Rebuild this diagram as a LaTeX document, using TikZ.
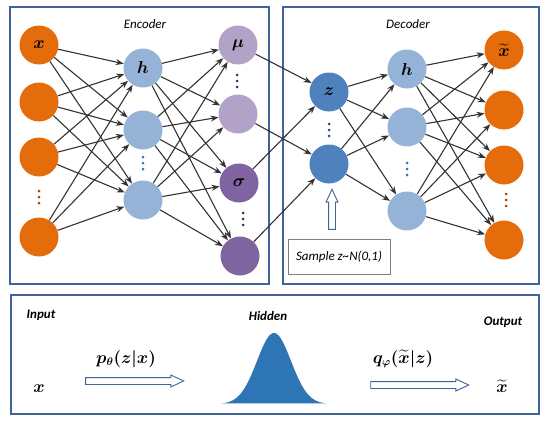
\documentclass[tikz,border=0pt]{standalone}
\usepackage{amsmath,bm}
\usepackage{fontspec}
\setmainfont{Carlito}
\usetikzlibrary{arrows.meta,shapes.arrows}

\definecolor{inorange}{HTML}{E46C0A}
\definecolor{hblue}{HTML}{95B3D7}
\definecolor{lpurple}{HTML}{B3A2C7}
\definecolor{dpurple}{HTML}{8064A2}
\definecolor{zblue}{HTML}{4F81BD}
\definecolor{framecol}{HTML}{3F6497}
\definecolor{edgegray}{HTML}{333333}
\definecolor{bellblue}{HTML}{2E75B6}
\definecolor{dotbrown}{HTML}{984807}
\definecolor{dotpurple}{HTML}{403152}
\definecolor{dotblue}{HTML}{1F4E79}

\tikzset{
  neuron/.style={circle,minimum size=39pt,inner sep=0pt,font=\fontsize{16}{18}\selectfont},
  link/.style={draw=edgegray,line width=1.1pt,-{Stealth[length=8pt,width=6pt]}},
  frame/.style={draw=framecol,line width=1.3pt},
  caption/.style={font=\fontsize{13}{15}\selectfont\itshape},
  mathlabel/.style={font=\fontsize{16}{18}\selectfont},
  hollow/.style={single arrow,draw=framecol,fill=white,line width=0.9pt,
    inner xsep=0pt,inner ysep=3pt,single arrow head extend=2.5pt,single arrow tip angle=50},
  vdots/.pic={\foreach \k in {-6,0,6} \fill (0,\k) circle (1.5);}
}

\begin{document}
\begin{tikzpicture}[x=1pt,y=-1pt]
            \useasboundingbox (0,0) rectangle (550,423);
            % frames
            \draw[frame] (10,7) rectangle (269,284);
            \draw[frame] (283,7) rectangle (539,284);
            \draw[frame] (11,295) rectangle (539,414);
            \node[caption] (enc) at (145,24) {Encoder};
            \node[caption] (dec) at (408,24) {Decoder};

            % encoder
            \node[neuron,fill=inorange] (in1) at (39,45) {$\bm{x}$};
            \node[neuron,fill=inorange] (in2) at (39,102) {};
            \node[neuron,fill=inorange] (in3) at (39,157) {};
            \node[neuron,fill=inorange] (in4) at (39,237) {};
            \pic[dotbrown] at (39,197) {vdots};
            \node[neuron,fill=hblue] (eh1) at (143,68) {$\bm{h}$};
            \node[neuron,fill=hblue] (eh2) at (143,130) {};
            \node[neuron,fill=hblue] (eh3) at (143,200) {};
            \pic[bellblue] at (143,163) {vdots};
            \node[neuron,fill=lpurple] (mu1) at (238,45) {$\bm{\mu}$};
            \node[neuron,fill=lpurple] (mu2) at (238,114) {};
            \node[neuron,fill=dpurple] (sg1) at (239,183) {$\bm{\sigma}$};
            \node[neuron,fill=dpurple] (sg2) at (240,256) {};
            \pic[dotpurple] at (237,81) {vdots};
            \pic[dotpurple] at (243,219) {vdots};

            % decoder
            \node[neuron,fill=zblue] (z1) at (329,92) {$\bm{z}$};
            \node[neuron,fill=zblue] (z2) at (329,164) {};
            \pic[dotblue] at (329,130) {vdots};
            \node[neuron,fill=hblue] (dh1) at (407,69) {$\bm{h}$};
            \node[neuron,fill=hblue] (dh2) at (407,127) {};
            \node[neuron,fill=hblue] (dh3) at (407,211) {};
            \pic[bellblue] at (407,169) {vdots};
            \node[neuron,fill=inorange] (out1) at (504,50) {$\widetilde{\bm{x}}$};
            \node[neuron,fill=inorange] (out2) at (504,110) {};
            \node[neuron,fill=inorange] (out3) at (504,165) {};
            \node[neuron,fill=inorange] (out4) at (504,240) {};
            \pic[dotbrown] at (506,200) {vdots};

            % connections
            \foreach \i in {1,...,4}
              \foreach \j in {1,2,3}
                \draw[link] (in\i) -- (eh\j);
            \foreach \i in {1,2,3}
              \foreach \j in {mu1,mu2,sg1,sg2}
                \draw[link] (eh\i) -- (\j);
            \draw[link] (mu1) -- (z1);
            \draw[link] (sg1) -- (z1);
            \draw[link] (mu2) -- (z2);
            \draw[link] (sg2) -- (z2);
            \foreach \i in {1,2}
              \foreach \j in {1,2,3}
                \draw[link] (z\i) -- (dh\j);
            \foreach \i in {1,2,3}
              \foreach \j in {1,...,4}
                \draw[link] (dh\i) -- (out\j);

            % sampling
            \node[draw=gray,line width=0.6pt,minimum width=102pt,minimum height=35pt,
              font=\fontsize{13}{15}\selectfont\itshape] (samp) at (339,256.5) {Sample z\textasciitilde N(0,1)};
            \node[hollow,minimum height=40pt,rotate=90] (up) at (332,213) {};

            % bottom panel
            \node[caption,font=\fontsize{13}{15}\selectfont\bfseries\itshape] (inp) at (41,315) {Input};
            \node[caption,font=\fontsize{13}{15}\selectfont\bfseries\itshape] (hid) at (268,316) {Hidden};
            \node[caption,font=\fontsize{13}{15}\selectfont\bfseries\itshape] (outp) at (503,322) {Output};
            \node[mathlabel] (xin) at (39,389) {$\bm{x}$};
            \node[mathlabel] (xout) at (502,386) {$\widetilde{\bm{x}}$};
            \node[mathlabel] (penc) at (126,359) {$\bm{p_{\theta}(z|x)}$};
            \node[mathlabel] (qdec) at (403,359) {$\bm{q_{\varphi}(\widetilde{x}|z)}$};
            \node[hollow,minimum height=98pt] (ra) at (131,381) {};
            \node[hollow,minimum height=98pt] (rb) at (416,385) {};
            \fill[bellblue] plot[domain=222:326,samples=90] (\x,{404-71*exp(-0.5*((\x-274)/17)^2)}) -- cycle;
        \end{tikzpicture}
\end{document}
